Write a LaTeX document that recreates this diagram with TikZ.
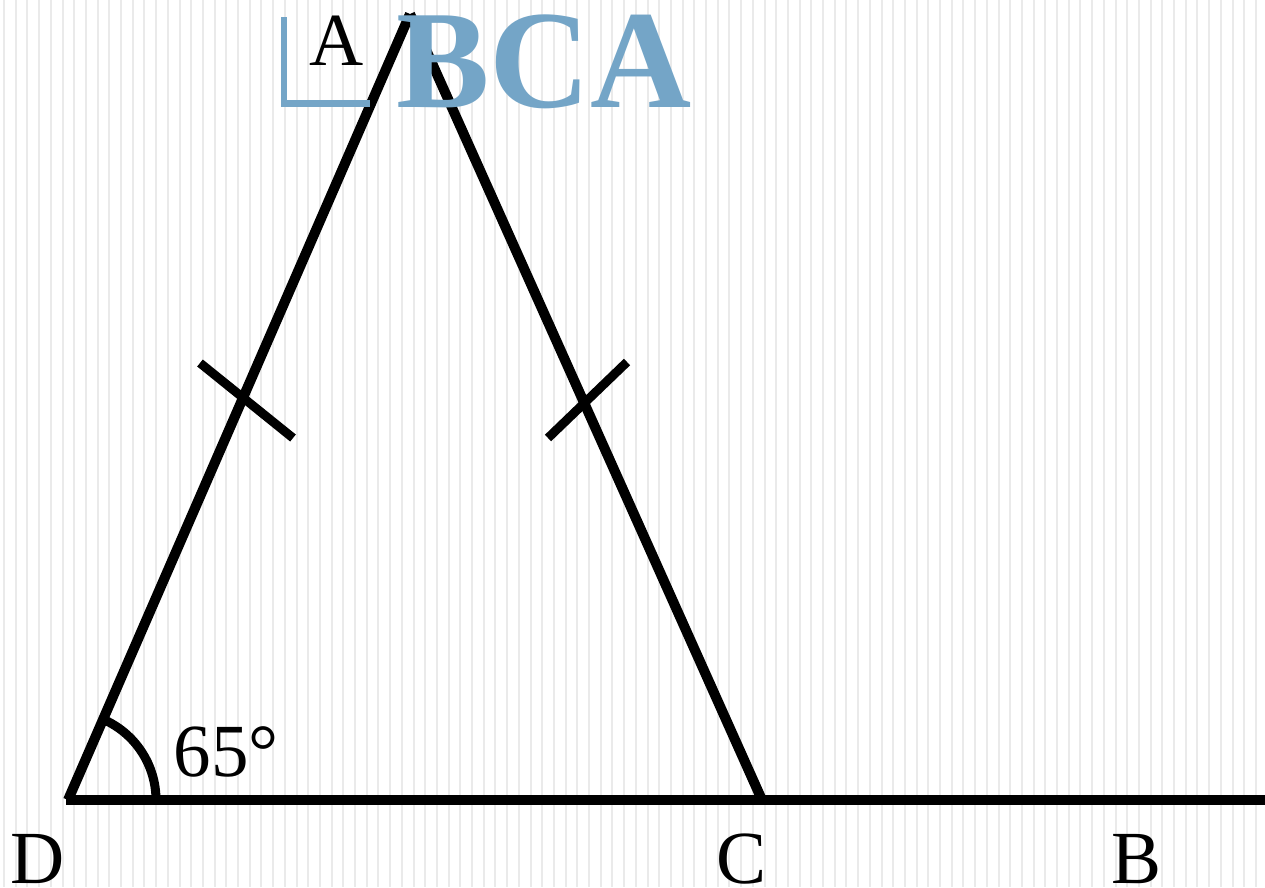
\documentclass[tikz,border=0pt]{standalone}
\usepackage{fontspec}
\setmainfont{Liberation Serif}
\definecolor{titleblue}{RGB}{116,165,199}
\definecolor{stripe}{RGB}{234,234,234}
\begin{document}
\begin{tikzpicture}[x=1pt,y=-1pt,
  geo/.style={line width=10pt,black},
  tick/.style={line width=9pt,black},
  lbl/.style={font=\fontsize{75}{75}\selectfont,inner sep=0pt,anchor=base},
  title/.style={font=\fontsize{140}{140}\selectfont\bfseries,text=titleblue,inner sep=0pt,anchor=base west}]
\useasboundingbox (0,0) rectangle (1265,887);
\fill[white] (0,0) rectangle (1265,887);
\foreach \i in {0,...,108} {
  \fill[stripe] ({4+11.7*\i-1},0) rectangle ({4+11.7*\i+1},887);
}
% points
\coordinate (D) at (68,800);
\coordinate (C) at (762,800);
\coordinate (A) at (410,14);
\coordinate (Bend) at (1265,800);
% lines
\draw[geo] (D) -- (A);
\draw[geo] (A) -- (C);
\draw[geo] ([xshift=-2pt]D) -- (Bend);
% tick marks
\coordinate (t1a) at (200,363); \coordinate (t1b) at (293,438);
\coordinate (t2a) at (548,438); \coordinate (t2b) at (627,362);
\draw[tick] (t1a) -- (t1b);
\draw[tick] (t2a) -- (t2b);
% angle arc
\draw[geo,line width=9pt] ([xshift=88pt]D) arc[start angle=0,end angle=66.5,radius=88pt];
% labels
\node[lbl] (lD) at (38,883) {D};
\node[lbl] (lC) at (742,883) {C};
\node[lbl] (lB) at (1136,883) {B};
\node[lbl] (l65) at (226,776) {65°};
\node[lbl] (lA) at (337,65) {A};
% title
\draw[titleblue,line width=6.5pt] (284,17) -- (284,103.5) -- (370,103.5);
\node[title] (tBCA) at (396,107) {BCA};
\end{tikzpicture}
\end{document}
